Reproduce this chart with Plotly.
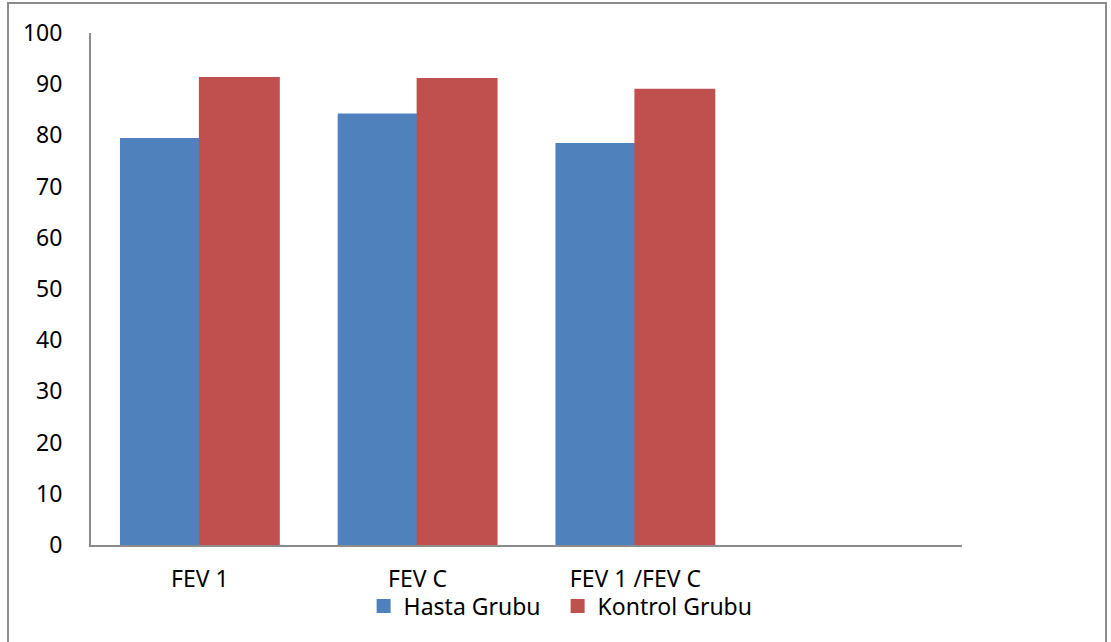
import plotly.graph_objects as go

categories = ["FEV 1", "FEV C", "FEV 1 /FEV C"]
hasta = [79.3, 84.1, 78.3]
kontrol = [91.2, 91.0, 88.9]
y_ticks = [0, 10, 20, 30, 40, 50, 60, 70, 80, 90, 100]

W, H = 1111, 642
L, R, T, B = 91, 149, 33, 97

xpos = list(range(len(categories)))

fig = go.Figure()
fig.add_trace(go.Bar(x=xpos, y=hasta, name="Hasta Grubu",
                     marker=dict(color="#4F81BD", line=dict(width=2, color="#4F81BD"))))
fig.add_trace(go.Bar(x=xpos, y=kontrol, name="Kontrol Grubu",
                     marker=dict(color="#C0504D", line=dict(width=2, color="#C0504D"))))

pw = W - L - R
ph = H - T - B
fig.add_shape(type="rect", xref="paper", yref="paper",
              x0=(8 - L) / pw, x1=(1106 - L) / pw,
              y0=-(B + 20) / ph, y1=1 + (T - 3) / ph,
              line=dict(color="#8C8C8C", width=2), layer="below")

font = "Noto Sans, Open Sans, sans-serif"
fig.update_layout(
    width=W, height=H,
    margin=dict(l=L, r=R, t=T, b=B, pad=0),
    paper_bgcolor="white", plot_bgcolor="white",
    barmode="group", bargap=0.275, bargroupgap=0,
    font=dict(family=font, size=23, color="#000000"),
    showlegend=True,
    legend=dict(orientation="h", x=0.313, xanchor="left", y=-0.119, yanchor="middle",
                font=dict(size=23), bgcolor="rgba(0,0,0,0)", traceorder="normal",
                itemwidth=30, tracegroupgap=0, entrywidth=149),
    xaxis=dict(range=[-0.5, 3.5], tickmode="array", tickvals=xpos, ticktext=categories,
               showline=True, linecolor="#8C8C8C", linewidth=2, showgrid=False,
               zeroline=False, ticks="", ticklabelstandoff=12, fixedrange=True),
    yaxis=dict(range=[0, 100], tickmode="array", tickvals=y_ticks,
               showline=True, linecolor="#8C8C8C", linewidth=2, showgrid=False,
               zeroline=False, ticks="", ticklabelstandoff=22, fixedrange=True),
)

fig.write_html("out.html")
